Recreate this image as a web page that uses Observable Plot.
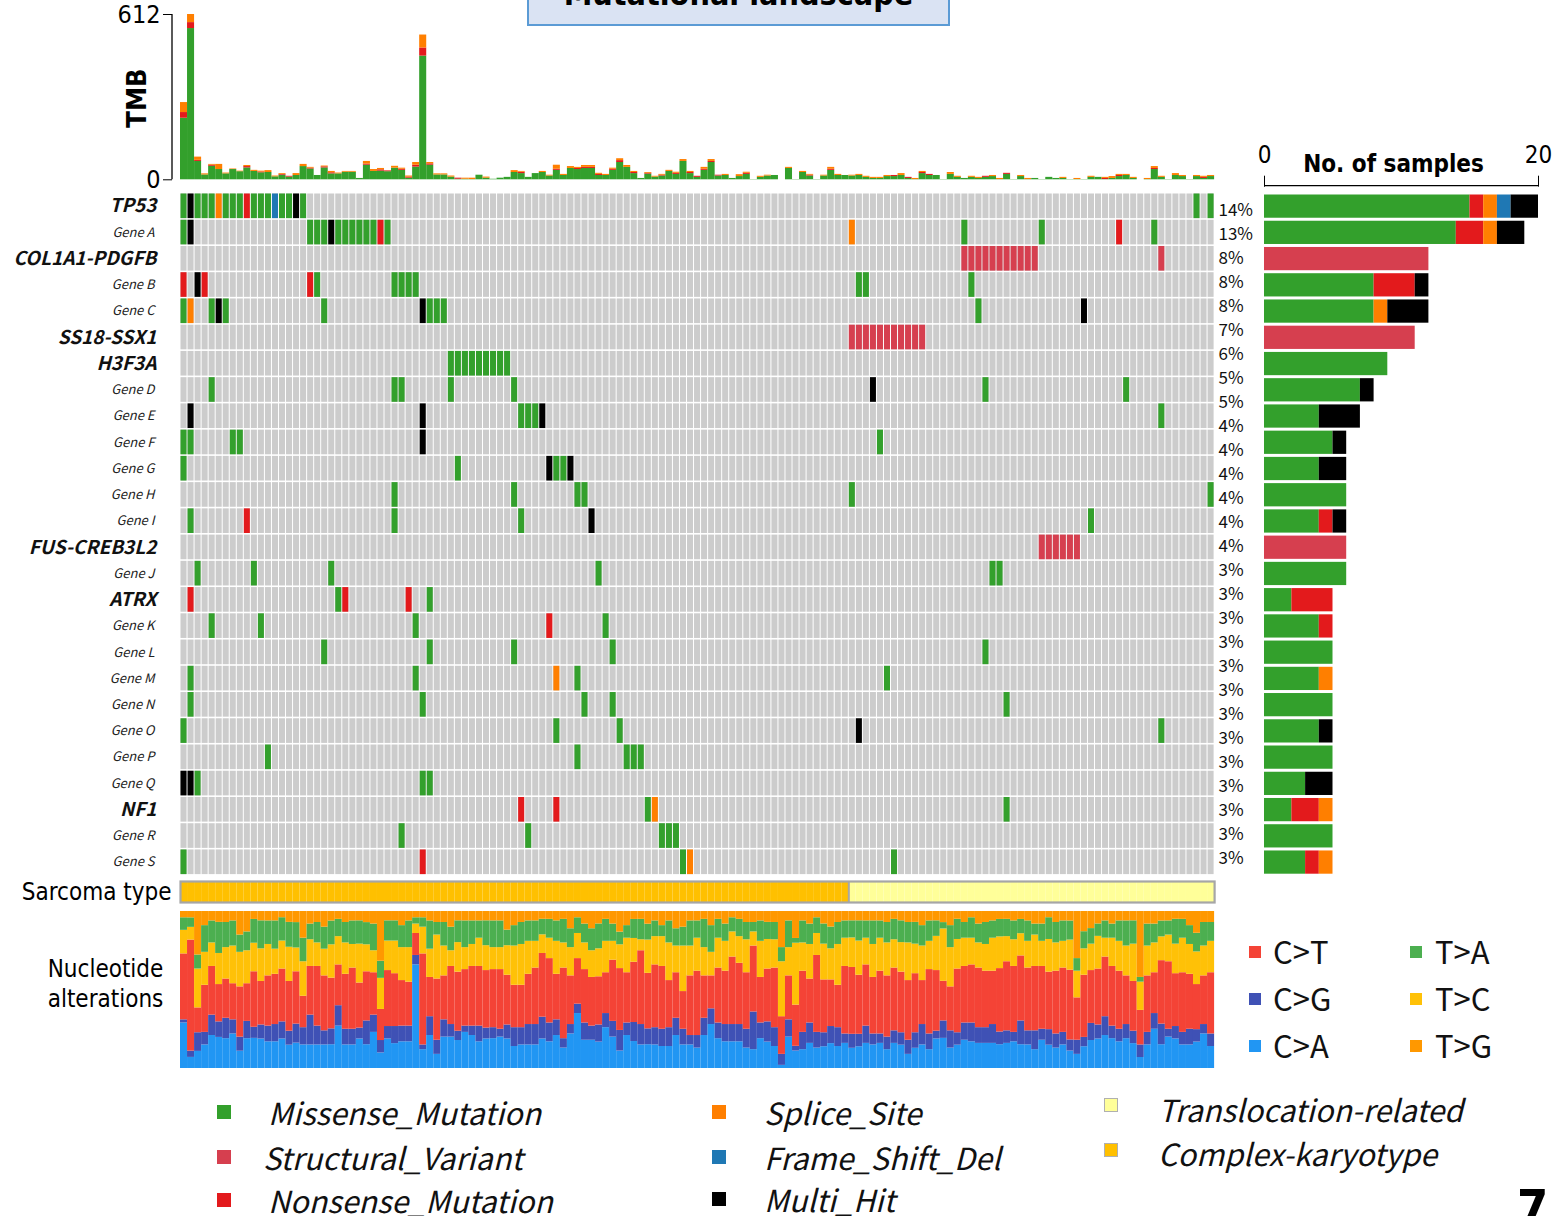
<!DOCTYPE html>
<html><head><meta charset="utf-8">
<script src="https://cdn.jsdelivr.net/npm/d3@7"></script>
<script src="https://cdn.jsdelivr.net/npm/@observablehq/plot@0.6"></script>
<style>
body{margin:0;background:#fff;}
#root{position:relative;width:1567px;height:1216px;overflow:hidden;font-family:"Noto Sans CJK JP","Noto Sans",sans-serif;color:#000;}
.abs{position:absolute;white-space:nowrap;}
</style></head><body><div id="root"></div>
<script>
const W = 1567, H = 1216;
const NARROW = "'Liberation Sans Narrow','DejaVu Sans Condensed','Roboto Condensed',Roboto,sans-serif";
const CJK = "'Noto Sans CJK JP','Noto Sans',sans-serif";

// ---------------- DATA ----------------
const nSamples = 147;
const genes = ["TP53","Gene A","COL1A1-PDGFB","Gene B","Gene C","SS18-SSX1","H3F3A","Gene D","Gene E","Gene F","Gene G","Gene H","Gene I","FUS-CREB3L2","Gene J","ATRX","Gene K","Gene L","Gene M","Gene N","Gene O","Gene P","Gene Q","NF1","Gene R","Gene S"];
const keyGenes = ["TP53","COL1A1-PDGFB","SS18-SSX1","H3F3A","FUS-CREB3L2","ATRX","NF1"];

const typeCodes = ["M","S","N","P","F","H"];
const typeNames = ["Missense_Mutation","Structural_Variant","Nonsense_Mutation","Splice_Site","Frame_Shift_Del","Multi_Hit"];
const typeColors = ["#33A02C","#D63F4F","#E31A1C","#FF7F00","#1F78B4","#000000"];

// mutated sample indices per gene, by alteration type
const mutTP53   = {M:[0,2,3,4,6,7,8,10,11,12,14,15,17,144,146], H:[1,16], P:[5], N:[9], F:[13]};
const mutGeneA  = {M:[0,18,19,20,22,23,24,25,26,27,29,111,122,138], H:[1,21], N:[28,133], P:[95]};
const mutCOL1A1 = {S:[111,112,113,114,115,116,117,118,119,120,121,139]};
const mutGeneB  = {N:[0,3,18], H:[2], M:[19,30,31,32,33,96,97,112]};
const mutGeneC  = {M:[0,4,6,20,35,36,37,113], P:[1], H:[5,34,128]};
const mutSS18   = {S:[95,96,97,98,99,100,101,102,103,104,105]};
const mutH3F3A  = {M:[38,39,40,41,42,43,44,45,46]};
const mutGeneD  = {M:[4,30,31,38,47,114,134], H:[98]};
const mutGeneE  = {M:[48,49,50,139], H:[1,34,51]};
const mutGeneF  = {M:[0,1,7,8,99], H:[34]};
const mutGeneG  = {M:[0,39,53,54], H:[52,55]};
const mutGeneH  = {M:[30,47,56,57,95,146]};
const mutGeneI  = {M:[1,30,48,129], N:[9], H:[58]};
const mutFUS    = {S:[122,123,124,125,126,127]};
const mutGeneJ  = {M:[2,10,21,59,115,116]};
const mutATRX   = {N:[1,23,32], M:[22,35]};
const mutGeneK  = {M:[4,11,33,60], N:[52]};
const mutGeneL  = {M:[20,35,47,61,114]};
const mutGeneM  = {M:[1,33,56,100], P:[53]};
const mutGeneN  = {M:[1,34,57,61,117]};
const mutGeneO  = {M:[0,53,62,139], H:[96]};
const mutGeneP  = {M:[12,56,63,64,65]};
const mutGeneQ  = {H:[0,1], M:[2,34,35]};
const mutNF1    = {N:[48,53], M:[66,117], P:[67]};
const mutGeneR  = {M:[31,49,68,69,70]};
const mutGeneS  = {M:[0,71,101], N:[34], P:[72]};
const geneMutations = [mutTP53,mutGeneA,mutCOL1A1,mutGeneB,mutGeneC,mutSS18,mutH3F3A,mutGeneD,mutGeneE,mutGeneF,mutGeneG,mutGeneH,mutGeneI,mutFUS,mutGeneJ,mutATRX,mutGeneK,mutGeneL,mutGeneM,mutGeneN,mutGeneO,mutGeneP,mutGeneQ,mutNF1,mutGeneR,mutGeneS];

// TMB per sample, split by type
const tmbMissense = [228,560,68,18,50,38,22,38,30,44, 31,26,27,11,17,10,16,49,40,16, 44,22,22,28,28,5,54,31,32,30, 43,35,6,47,458,54,18,18,10,2, 2,1,17,6,2,6,9,27,23,9, 23,27,14,35,16,42,38,42,42,16, 16,35,64,46,23,5,21,10,14,31, 20,68,23,9,35,64,14,16,5,12, 20,1,9,14,16,0,42,1,27,14, 1,14,35,16,16,14,16,9,5,5, 12,12,16,5,1,23,16,16,1,20, 9,5,9,5,9,12,1,20,1,12, 1,5,1,9,5,5,1,1,1,9, 9,1,5,12,16,5,0,1,38,9, 1,16,12,1,12,5,12];
const tmbNonsense = [21,22,4,0,4,0,0,0,0,5, 0,3,0,0,3,3,0,0,3,0, 4,4,0,0,0,0,4,0,5,3, 0,4,4,7,30,5,0,0,0,4, 0,0,0,0,0,0,0,0,5,0, 0,0,0,4,0,0,4,4,4,4, 0,4,7,0,4,0,3,0,3,0, 4,0,4,4,4,4,3,0,0,0, 4,0,0,0,0,0,0,0,0,3, 0,0,4,0,0,0,0,0,0,0, 0,4,0,4,0,4,4,0,0,0, 0,0,0,0,4,0,0,4,0,0, 0,0,0,0,0,0,0,0,0,0, 0,4,0,4,0,0,0,0,4,0, 0,0,0,0,0,4,0];
const tmbSplice   = [37,30,12,4,3,19,3,2,2,4, 4,3,7,3,3,0,7,8,3,0, 3,5,3,3,3,0,10,7,5,0, 7,4,4,10,48,5,4,4,4,0, 4,5,0,4,0,0,0,7,3,0, 0,4,3,15,4,7,4,7,7,4, 4,4,7,7,4,0,3,3,3,4, 4,7,4,0,7,7,0,4,0,7, 4,0,4,3,0,0,4,0,4,3, 0,3,7,4,0,3,4,4,4,4, 4,0,7,0,4,4,0,0,0,7, 4,0,4,4,0,4,4,0,0,4, 4,0,0,0,0,4,0,4,0,4, 0,4,7,4,4,4,0,4,7,4, 0,7,4,0,4,4,4];
const tmbTicks = [0, 612];

// sarcoma type (ordered samples)
const sarcomaTypes = ["Complex-karyotype","Translocation-related"];
const sarcomaCounts = [95, 52];
const sarcomaColors = ["#FFC000","#FFFF99"];

// nucleotide alteration shares per sample (%)
const ntTypes  = ["C>A","C>G","C>T","T>C","T>A","T>G"];
const ntColors = ["#2196F3","#3F51B5","#F44336","#FFC107","#4CAF50","#FF9800"];
const ntCA = [29,7,11,15,21,20,19,22,11,19, 19,19,17,17,19,15,16,15,15,15, 15,15,27,15,15,19,15,23,10,19, 16,17,17,66,12,21,9,20,20,18, 23,21,17,19,19,20,19,14,15,15, 15,19,17,21,13,22,35,18,18,17, 26,20,11,21,17,15,15,15,14,14, 21,15,15,13,21,28,19,17,17,17, 13,12,19,17,14,2,20,11,12,16, 13,14,16,14,16,13,14,16,15,16, 12,16,15,9,13,15,12,19,19,13, 15,18,17,16,16,16,15,16,17,15, 15,12,18,15,13,15,11,9,14,18, 19,21,19,17,19,16,7,15,25,15, 20,19,15,15,17,22,14];
const ntCG = [2,4,12,8,13,10,13,9,9,11, 7,9,10,11,11,9,12,11,19,12, 9,10,13,10,10,7,15,11,8,8, 11,10,10,6,3,12,9,11,8,6, 4,6,10,7,7,5,9,12,11,13, 13,14,12,10,6,6,6,11,9,11, 9,10,13,8,12,13,10,11,11,12, 11,10,6,8,11,10,10,11,11,11, 12,24,10,13,12,7,11,3,11,13, 10,9,11,12,6,9,8,11,7,6, 8,8,8,9,10,13,10,5,11,11, 8,11,12,10,10,12,8,8,6,15, 9,12,7,10,9,8,7,9,6,11, 9,12,8,8,9,8,8,8,10,13, 5,8,8,10,8,6,8];
const ntCT = [42,70,16,30,31,24,25,23,32,24, 35,28,32,32,34,32,33,20,31,38, 35,32,26,35,39,29,31,27,20,36, 34,29,28,14,58,25,39,28,37,38, 36,38,38,37,37,38,32,27,27,32, 36,41,41,29,45,31,29,34,31,31, 26,39,39,32,38,47,35,40,40,30, 29,24,38,41,27,21,35,34,43,39, 36,42,29,34,38,24,28,26,39,28, 49,34,30,27,43,43,38,39,36,40, 39,40,39,38,38,28,41,39,25,28, 41,36,37,38,36,34,40,44,42,41, 40,41,40,37,40,41,44,27,40,34, 36,38,38,37,31,32,22,36,26,40, 43,34,38,35,29,31,39];
const ntTC = [15,8,25,21,15,20,20,24,22,21, 18,21,20,16,18,22,15,22,17,15, 17,21,18,20,15,25,17,14,20,19, 21,21,22,6,17,18,28,19,10,19, 14,14,18,16,14,14,19,25,26,21, 17,12,13,21,16,18,16,17,17,18, 20,12,15,22,15,7,21,18,19,24, 17,29,19,21,18,15,19,19,16,17, 21,9,23,19,18,35,18,39,18,22, 14,23,20,26,18,19,22,17,21,21, 21,18,19,24,19,22,18,22,33,25, 19,18,17,16,17,21,20,16,17,14, 17,20,16,21,18,17,19,17,17,17, 21,12,18,19,19,24,18,19,19,15, 17,19,22,19,21,19,20];
const ntTA = [8,6,9,17,14,20,16,16,11,12, 15,18,15,18,15,16,16,15,10,13, 14,15,11,13,15,15,14,17,11,13, 13,14,17,4,6,18,8,15,15,14, 17,15,11,16,17,17,10,13,14,13, 13,10,12,13,15,12,10,12,14,16, 14,11,8,8,12,13,10,10,7,14, 11,12,16,11,18,17,12,11,9,11, 11,6,13,11,11,9,17,3,14,13, 10,13,14,14,11,11,13,11,15,11, 13,13,14,13,14,13,13,10,4,14, 13,10,13,12,14,11,11,11,12,9, 13,7,11,14,13,13,12,8,11,10, 8,11,9,13,16,15,3,14,12,10, 9,16,12,12,12,15,12];
const ntTG = [4,4,28,9,6,7,7,6,15,13, 5,6,6,6,4,7,7,17,8,7, 10,6,5,7,6,6,7,8,32,6, 6,9,6,4,4,6,7,7,10,6, 6,6,6,6,6,6,12,9,7,6, 6,5,5,6,5,11,4,8,11,8, 5,8,13,9,5,5,8,6,9,6, 11,10,6,6,5,9,5,8,4,5, 7,7,6,7,7,23,6,17,6,8, 4,8,10,7,6,6,6,6,6,6, 7,5,6,7,7,9,6,6,7,9, 5,7,4,8,7,6,5,5,6,5, 6,8,8,4,7,6,6,30,13,11, 8,6,8,6,6,6,42,8,8,6, 6,5,5,9,14,7,7];

// right-hand percentage labels and sample-count ticks
const pctLabels = ["14%","13%","8%","8%","8%","7%","6%","5%","5%","4%","4%","4%","4%","4%","4%","3%","3%","3%","3%","3%","3%","3%","3%","3%","3%","3%","3%","3%"];
const countTicks = [0, 20];

// ---------------- BUILD ----------------
const root = document.getElementById("root");
const samples = d3.range(nSamples);
const typeByCode = Object.fromEntries(typeCodes.map((c,i)=>[c,typeNames[i]]));
const muts = [];
genes.forEach((g,gi)=>{
  const m = geneMutations[gi];
  typeCodes.forEach(c=>{ (m[c]||[]).forEach(s=>muts.push({s, g, type:typeByCode[c]})); });
});
const baseStyle = {background:"transparent", overflow:"visible", fontFamily:CJK};
function place(svg){ svg.style.position="absolute"; svg.style.left="0px"; svg.style.top="0px"; root.appendChild(svg); return svg; }
const xSamples = {type:"band", domain:samples, padding:0, round:false, axis:null};
const X0 = 180, X1 = 1214.1;

// TMB
const tmbRows = samples.flatMap(i=>[
  {s:i, type:"Missense_Mutation", v:tmbMissense[i]},
  {s:i, type:"Nonsense_Mutation", v:tmbNonsense[i]},
  {s:i, type:"Splice_Site", v:tmbSplice[i]}]);
const tmbPlot = place(Plot.plot({
  width:W, height:H, marginLeft:X0, marginRight:W-X1, marginTop:14, marginBottom:H-179.3,
  x:xSamples, y:{domain:[0,612]},
  color:{domain:typeNames, range:typeColors},
  style:baseStyle,
  marks:[
    Plot.barY(tmbRows, {x:"s", y:"v", fill:"type"}),
    Plot.axisY({ticks:tmbTicks, tickFormat:d=>String(d), tickSize:9, dx:-8, tickPadding:3, fontSize:25, fontFamily:NARROW, label:null})
  ]
}));
{
  const y = tmbPlot.scale("y");
  d3.select(tmbPlot).append("line").attr("x1",172).attr("x2",172).attr("y1",y.apply(0)).attr("y2",y.apply(612)).attr("stroke","#000").attr("stroke-width",1.3);
}

// Oncoprint grid
const bg = d3.cross(samples, genes).map(([s,g])=>({s,g}));
const inset = {insetLeft:0.5, insetRight:0.5, insetTop:0.8, insetBottom:0.8};
place(Plot.plot({
  width:W, height:H, marginLeft:X0, marginRight:W-X1, marginTop:192.7, marginBottom:H-874.9,
  x:xSamples, y:{type:"band", domain:genes, padding:0, round:false, axis:null},
  color:{domain:typeNames, range:typeColors},
  style:baseStyle,
  marks:[
    Plot.cell(bg, {x:"s", y:"g", fill:"#CCCCCC", ...inset}),
    Plot.cell(muts, {x:"s", y:"g", fill:"type", ...inset}),
    Plot.text(genes.filter(g=>keyGenes.includes(g)), {y:d=>d, text:d=>d, frameAnchor:"left", dx:-24, textAnchor:"end", fontSize:19, fontWeight:"bold", fontStyle:"italic", fill:"#111"}),
    Plot.text(genes.filter(g=>!keyGenes.includes(g)), {y:d=>d, text:d=>d, frameAnchor:"left", dx:-26, textAnchor:"end", fontSize:13, fontStyle:"italic", fill:"#222"})
  ]
}));

// Sarcoma type
const sarcRows = [];
{ let s=0; sarcomaTypes.forEach((t,k)=>{ for(let j=0;j<sarcomaCounts[k];j++) sarcRows.push({s:s++, type:t}); }); }
place(Plot.plot({
  width:W, height:H, marginLeft:X0, marginRight:W-X1, marginTop:881, marginBottom:H-902,
  x:xSamples, color:{domain:sarcomaTypes, range:sarcomaColors},
  style:baseStyle,
  marks:[
    Plot.cell(sarcRows, {x:"s", fill:"type"}),
    Plot.ruleX([sarcomaCounts[0]], {stroke:"#A6A6A6", strokeWidth:2, dx:-3.5}),
    Plot.frame({stroke:"#A6A6A6", strokeWidth:2.2}),
    Plot.text(["Sarcoma type"], {text:d=>d, frameAnchor:"left", dx:-9, textAnchor:"end", fontSize:24, fontFamily:NARROW, fill:"#000"})
  ]
}));

// Nucleotide alterations
const ntArrays = [ntCA, ntCG, ntCT, ntTC, ntTA, ntTG];
const ntRows = samples.flatMap(i=>ntTypes.map((t,k)=>({s:i, t, v:ntArrays[k][i]})));
place(Plot.plot({
  width:W, height:H, marginLeft:X0, marginRight:W-X1, marginTop:911, marginBottom:H-1068,
  x:xSamples, y:{axis:null}, color:{domain:ntTypes, range:ntColors},
  style:baseStyle,
  marks:[
    Plot.barY(ntRows, Plot.stackY({offset:"normalize", x:"s", y:"v", fill:"t"})),
    Plot.text(["Nucleotide\nalterations"], {text:d=>d, frameAnchor:"left", dx:-75, dy:-8, textAnchor:"middle", fontSize:24, lineHeight:1.25, fontFamily:NARROW, fill:"#000"})
  ]
}));

// Right-hand bar chart of sample counts
const counts = [];
genes.forEach(g=>typeNames.forEach(t=>{
  const n = muts.filter(d=>d.g===g && d.type===t).length;
  if (n) counts.push({g, type:t, n});
}));
const barPlot = place(Plot.plot({
  width:W, height:H, marginLeft:1264, marginRight:W-1538, marginTop:192.7, marginBottom:H-874.9,
  x:{domain:[0,20]}, y:{type:"band", domain:genes, padding:0, round:false, axis:null},
  color:{domain:typeNames, range:typeColors},
  style:baseStyle,
  marks:[
    Plot.barX(counts, {x:"n", y:"g", fill:"type", insetTop:1.8, insetBottom:1.2}),
    Plot.axisX({anchor:"top", ticks:countTicks, tickSize:11, dy:-7, tickPadding:12, fontSize:24, fontFamily:NARROW, label:null}),
    Plot.text(["No. of samples"], {text:d=>d, frameAnchor:"top", dx:-8, dy:-38, fontSize:24, fontWeight:"bold", fontFamily:NARROW, fill:"#000"})
  ]
}));
{
  const x = barPlot.scale("x");
  d3.select(barPlot).append("line").attr("x1",x.apply(0)).attr("x2",x.apply(20)).attr("y1",185.7).attr("y2",185.7).attr("stroke","#000").attr("stroke-width",1.3);
}

// percentage labels
place(Plot.plot({
  width:W, height:H, marginLeft:1218, marginRight:W-1262, marginTop:210, marginBottom:H-858,
  y:{type:"point", domain:d3.range(pctLabels.length), padding:0, round:false, axis:null},
  style:baseStyle,
  marks:[ Plot.text(pctLabels, {y:(d,i)=>i, text:d=>d, frameAnchor:"left", textAnchor:"start", fontSize:17, fill:"#111"}) ]
}));

// ---------------- HTML text & legends ----------------
function div(css, text){ const e=document.createElement("div"); e.className="abs"; Object.assign(e.style, css); if(text!=null) e.textContent=text; root.appendChild(e); return e; }

// title box (cut at top)
div({left:"527px", top:"-40px", width:"419px", height:"62px", background:"#DAE3F3", border:"2px solid #5B9BD5"});
div({left:"527px", width:"423px", top:"-22px", textAlign:"center", fontSize:"32px", lineHeight:"32px", fontWeight:"bold", fontFamily:NARROW}, "Mutational landscape");

// TMB label
div({left:"136px", top:"98px", transform:"translate(-50%,-50%) rotate(-90deg)", fontSize:"27px", fontWeight:"bold", fontFamily:NARROW, lineHeight:"27px"}, "TMB");

// nucleotide legend
const ntLegendOrder = [["C>T","C>G","C>A"],["T>A","T>C","T>G"]];
ntLegendOrder.forEach((col,ci)=>col.forEach((t,ri)=>{
  const cx = ci===0 ? 1249 : 1410, lx = ci===0 ? 1273 : 1435, cy = 952 + ri*47;
  div({left:cx+"px", top:(cy-6)+"px", width:"12px", height:"12px", background:ntColors[ntTypes.indexOf(t)]});
  div({left:lx+"px", top:(cy-21)+"px", fontSize:"31px", lineHeight:"40px", fontWeight:"normal", color:"#111"}, t);
}));

// mutation / sarcoma legend
const legendItems = [
  {label:"Missense_Mutation", color:typeColors[0], sx:217, lx:268, cy:1112},
  {label:"Structural_Variant", color:typeColors[1], sx:217, lx:263, cy:1157},
  {label:"Nonsense_Mutation", color:typeColors[2], sx:217, lx:268, cy:1200},
  {label:"Splice_Site", color:typeColors[3], sx:712, lx:764, cy:1112},
  {label:"Frame_Shift_Del", color:typeColors[4], sx:712, lx:764, cy:1157},
  {label:"Multi_Hit", color:typeColors[5], sx:712, lx:764, cy:1199},
  {label:"Translocation-related", color:sarcomaColors[1], sx:1104, lx:1158, cy:1105, border:true, ly:1109},
  {label:"Complex-karyotype", color:sarcomaColors[0], sx:1104, lx:1158, cy:1150, border:true, ly:1153}
];
legendItems.forEach(it=>{
  div({left:it.sx+"px", top:(it.cy-7)+"px", width:(it.border?12:14)+"px", height:(it.border?12:14)+"px", background:it.color, border: it.border ? "1px solid #B0B0B0" : "none"});
  const ly = it.ly || it.cy;
  div({left:it.lx+"px", top:(ly-22)+"px", fontSize:"30.5px", lineHeight:"44px", fontStyle:"italic", color:"#111"}, it.label);
});

// page number (cut at bottom)
div({left:"1517px", top:"1178px", fontSize:"50px", lineHeight:"60px", fontWeight:"bold", fontFamily:NARROW}, "7");
</script></body></html>
